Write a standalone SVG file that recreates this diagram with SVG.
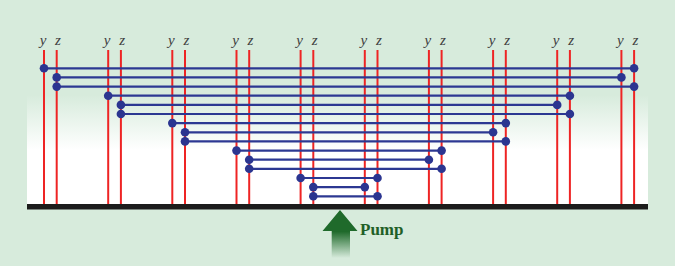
<svg xmlns="http://www.w3.org/2000/svg" width="675" height="266" viewBox="0 0 675 266">
<defs>
<linearGradient id="panel" x1="0" y1="0" x2="0" y2="1">
<stop offset="0" stop-color="#d7ebdc"/>
<stop offset="0.5" stop-color="#ffffff"/>
<stop offset="1" stop-color="#ffffff"/>
</linearGradient>
<linearGradient id="shaft" x1="0" y1="0" x2="0" y2="1">
<stop offset="0" stop-color="#1f6a2b"/>
<stop offset="0.45" stop-color="#1f6a2b"/>
<stop offset="1" stop-color="#1f6a2b" stop-opacity="0"/>
</linearGradient>
<style>
.w{stroke:#ee2424;stroke-width:2;fill:none}
.c{stroke:#2c3892;stroke-width:2.2;fill:none}
.d{fill:#2b3590}
.lbl{font-family:"Liberation Serif","DejaVu Serif",serif;font-style:italic;font-size:15px;fill:#404040;text-anchor:middle}
.pump{font-family:"Liberation Serif","DejaVu Serif",serif;font-weight:bold;font-size:17px;fill:#1f5f27}
</style>
</defs>
<rect width="675" height="266" fill="#d7ebdc"/>
<rect x="27" y="95" width="621" height="110" fill="url(#panel)"/>
<g id="labels">
<text class="lbl" x="43" y="45">y</text><text class="lbl" x="58" y="45">z</text>
<text class="lbl" x="107.2" y="45">y</text><text class="lbl" x="122.2" y="45">z</text>
<text class="lbl" x="171.3" y="45">y</text><text class="lbl" x="186.3" y="45">z</text>
<text class="lbl" x="235.5" y="45">y</text><text class="lbl" x="250.5" y="45">z</text>
<text class="lbl" x="299.6" y="45">y</text><text class="lbl" x="314.6" y="45">z</text>
<text class="lbl" x="363.8" y="45">y</text><text class="lbl" x="378.8" y="45">z</text>
<text class="lbl" x="427.9" y="45">y</text><text class="lbl" x="442.9" y="45">z</text>
<text class="lbl" x="492.1" y="45">y</text><text class="lbl" x="507.1" y="45">z</text>
<text class="lbl" x="556.2" y="45">y</text><text class="lbl" x="571.2" y="45">z</text>
<text class="lbl" x="620.4" y="45">y</text><text class="lbl" x="635.4" y="45">z</text>
</g>
<g id="wires">
<g id="pair0"><line class="w" x1="44" y1="50" x2="44" y2="205"/><line class="w" x1="56.7" y1="50" x2="56.7" y2="205"/></g>
<g id="pair1"><line class="w" x1="108.2" y1="50" x2="108.2" y2="205"/><line class="w" x1="120.9" y1="50" x2="120.9" y2="205"/></g>
<g id="pair2"><line class="w" x1="172.3" y1="50" x2="172.3" y2="205"/><line class="w" x1="185" y1="50" x2="185" y2="205"/></g>
<g id="pair3"><line class="w" x1="236.5" y1="50" x2="236.5" y2="205"/><line class="w" x1="249.2" y1="50" x2="249.2" y2="205"/></g>
<g id="pair4"><line class="w" x1="300.6" y1="50" x2="300.6" y2="205"/><line class="w" x1="313.3" y1="50" x2="313.3" y2="205"/></g>
<g id="pair5"><line class="w" x1="364.8" y1="50" x2="364.8" y2="205"/><line class="w" x1="377.5" y1="50" x2="377.5" y2="205"/></g>
<g id="pair6"><line class="w" x1="428.9" y1="50" x2="428.9" y2="205"/><line class="w" x1="441.6" y1="50" x2="441.6" y2="205"/></g>
<g id="pair7"><line class="w" x1="493.1" y1="50" x2="493.1" y2="205"/><line class="w" x1="505.8" y1="50" x2="505.8" y2="205"/></g>
<g id="pair8"><line class="w" x1="557.2" y1="50" x2="557.2" y2="205"/><line class="w" x1="569.9" y1="50" x2="569.9" y2="205"/></g>
<g id="pair9"><line class="w" x1="621.4" y1="50" x2="621.4" y2="205"/><line class="w" x1="634.1" y1="50" x2="634.1" y2="205"/></g>
</g>
<rect id="base" x="27" y="204" width="621" height="5.5" fill="#1c1c1c"/>
<g id="connectors">
<line class="c" x1="44" y1="68.3" x2="634.1" y2="68.3"/>
<line class="c" x1="56.7" y1="77.4" x2="621.4" y2="77.4"/>
<line class="c" x1="56.7" y1="86.6" x2="634.1" y2="86.6"/>
<line class="c" x1="108.2" y1="95.7" x2="569.9" y2="95.7"/>
<line class="c" x1="120.9" y1="104.9" x2="557.2" y2="104.9"/>
<line class="c" x1="120.9" y1="114" x2="569.9" y2="114"/>
<line class="c" x1="172.3" y1="123.1" x2="505.8" y2="123.1"/>
<line class="c" x1="185" y1="132.3" x2="493.1" y2="132.3"/>
<line class="c" x1="185" y1="141.4" x2="505.8" y2="141.4"/>
<line class="c" x1="236.5" y1="150.6" x2="441.6" y2="150.6"/>
<line class="c" x1="249.2" y1="159.7" x2="428.9" y2="159.7"/>
<line class="c" x1="249.2" y1="168.8" x2="441.6" y2="168.8"/>
<line class="c" x1="300.6" y1="178" x2="377.5" y2="178"/>
<line class="c" x1="313.3" y1="187.1" x2="364.8" y2="187.1"/>
<line class="c" x1="313.3" y1="196.3" x2="377.5" y2="196.3"/>
</g>
<g id="dots">
<circle class="d" cx="44" cy="68.3" r="4.3"/><circle class="d" cx="634.1" cy="68.3" r="4.3"/>
<circle class="d" cx="56.7" cy="77.4" r="4.3"/><circle class="d" cx="621.4" cy="77.4" r="4.3"/>
<circle class="d" cx="56.7" cy="86.6" r="4.3"/><circle class="d" cx="634.1" cy="86.6" r="4.3"/>
<circle class="d" cx="108.2" cy="95.7" r="4.3"/><circle class="d" cx="569.9" cy="95.7" r="4.3"/>
<circle class="d" cx="120.9" cy="104.9" r="4.3"/><circle class="d" cx="557.2" cy="104.9" r="4.3"/>
<circle class="d" cx="120.9" cy="114" r="4.3"/><circle class="d" cx="569.9" cy="114" r="4.3"/>
<circle class="d" cx="172.3" cy="123.1" r="4.3"/><circle class="d" cx="505.8" cy="123.1" r="4.3"/>
<circle class="d" cx="185" cy="132.3" r="4.3"/><circle class="d" cx="493.1" cy="132.3" r="4.3"/>
<circle class="d" cx="185" cy="141.4" r="4.3"/><circle class="d" cx="505.8" cy="141.4" r="4.3"/>
<circle class="d" cx="236.5" cy="150.6" r="4.3"/><circle class="d" cx="441.6" cy="150.6" r="4.3"/>
<circle class="d" cx="249.2" cy="159.7" r="4.3"/><circle class="d" cx="428.9" cy="159.7" r="4.3"/>
<circle class="d" cx="249.2" cy="168.8" r="4.3"/><circle class="d" cx="441.6" cy="168.8" r="4.3"/>
<circle class="d" cx="300.6" cy="178" r="4.3"/><circle class="d" cx="377.5" cy="178" r="4.3"/>
<circle class="d" cx="313.3" cy="187.1" r="4.3"/><circle class="d" cx="364.8" cy="187.1" r="4.3"/>
<circle class="d" cx="313.3" cy="196.3" r="4.3"/><circle class="d" cx="377.5" cy="196.3" r="4.3"/>
</g>
<g id="pump">
<path d="M340 210 L357.5 231 L350 231 L350 258 L331.7 258 L331.7 231 L322.5 231 Z" fill="url(#shaft)"/>
<text class="pump" x="360" y="235">Pump</text>
</g>
</svg>
